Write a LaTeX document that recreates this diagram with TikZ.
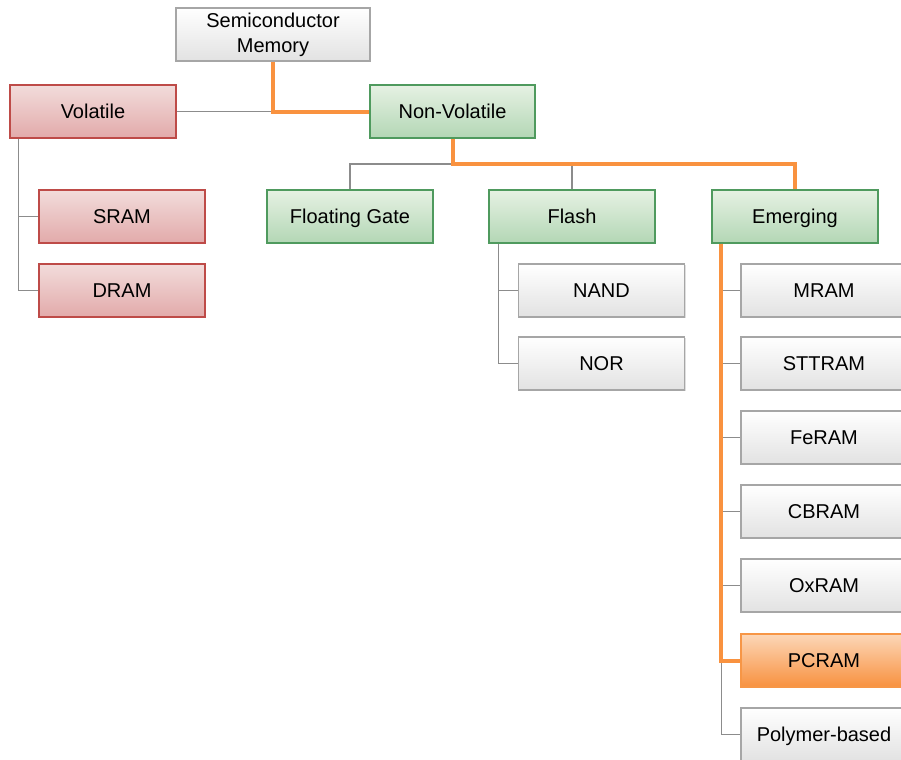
\documentclass[tikz,border=0pt]{standalone}
\usepackage{fontspec}
\setmainfont{Liberation Sans}
\usetikzlibrary{shadows}
\definecolor{redline}{HTML}{BE4B48}
\definecolor{redtop}{HTML}{F2DCDB}
\definecolor{redbot}{HTML}{E2AAAA}
\definecolor{greenline}{HTML}{4F9A5E}
\definecolor{greentop}{HTML}{E6F1E3}
\definecolor{greenbot}{HTML}{B3D7B5}
\definecolor{greyline}{HTML}{A6A6A6}
\definecolor{greybot}{HTML}{E2E2E2}
\definecolor{orangeline}{HTML}{F79646}
\definecolor{orangetop}{HTML}{FCD7B8}
\definecolor{orangebot}{HTML}{F8913F}
\definecolor{wire}{HTML}{8C8C8C}
\definecolor{hotwire}{HTML}{F9923F}

\begin{document}
\begin{tikzpicture}[x=0.5pt,y=-0.5pt,every node/.style={rectangle,draw,line width=0.6pt,minimum width=83pt,minimum height=26.5pt,inner sep=0pt,align=center,text height=7.2pt,text depth=0pt,font=\fontsize{10}{12.5}\selectfont,drop shadow={shadow xshift=0.7pt,shadow yshift=-0.7pt,opacity=0.25}},
						redbox/.style={draw=redline,top color=redtop,bottom color=redbot},greenbox/.style={draw=greenline,top color=greentop,bottom color=greenbot},
						greybox/.style={draw=greyline,top color=white,bottom color=greybot},orangebox/.style={draw=orangeline,top color=orangetop,bottom color=orangebot},
						link/.style={draw=wire,line width=0.8pt},hot/.style={draw=hotwire,line width=2pt}
						]
						\clip (0,0) rectangle (901,760);
						\node[greybox,minimum width=97pt,text height=,text depth=](semi) at (273,34.5){Semiconductor\\Memory};
						\node[redbox](vol) at (93,111.5){Volatile};
						\node[greenbox,minimum width=82.5pt](nonvol) at (452.5,111.5){Non-Volatile};
						\node[redbox](sram) at (122,216.5){SRAM};
						\node[redbox](dram) at (122,290.5){DRAM};
						\node[greenbox](fgate) at (350,216.5){Floating Gate};
						\node[greenbox](flash) at (572,216.5){Flash};
						\node[greenbox](emerg) at (795,216.5){Emerging};
						\node[greybox](nand) at (601.5,290.5){NAND};
						\node[greybox](nor) at (601.5,363.5){NOR};
						\node[greybox](mram) at (824,290.5){MRAM};
						\node[greybox](sttram) at (824,363.5){STTRAM};
						\node[greybox](feram) at (824,437.5){FeRAM};
						\node[greybox](cbram) at (824,511.5){CBRAM};
						\node[greybox](oxram) at (824,585.5){OxRAM};
						\node[orangebox](pcram) at (824,660.5){PCRAM};
						\node[greybox](poly) at (824,734.5){Polymer-based};
						\coordinate (nvbus) at (452.5,164);
						\draw[link] (vol.east) -- (nonvol.west);
						\draw[link] ([xshift=4.5pt]vol.south west) |- (sram.west);
						\draw[link] ([xshift=4.5pt]vol.south west) |- (dram.west);
						\draw[link] (fgate.north) |- (nvbus) -| (emerg.north);
						\draw[link] (flash.north) -- (flash.north |- nvbus);
						\draw[link] ([xshift=5pt]flash.south west) |- (nand.west);
						\draw[link] ([xshift=5pt]flash.south west) |- (nor.west);
						\foreach \n in {mram,sttram,feram,cbram,oxram,poly}
							\draw[link] ([xshift=5pt]emerg.south west) |- (\n.west);
						\draw[hot] (semi.south) |- (nonvol.west);
						\draw[hot] (nonvol.south) -- (nvbus) -| (emerg.north);
						\draw[hot] ([xshift=5pt]emerg.south west) |- (pcram.west);
						\end{tikzpicture}
\end{document}
